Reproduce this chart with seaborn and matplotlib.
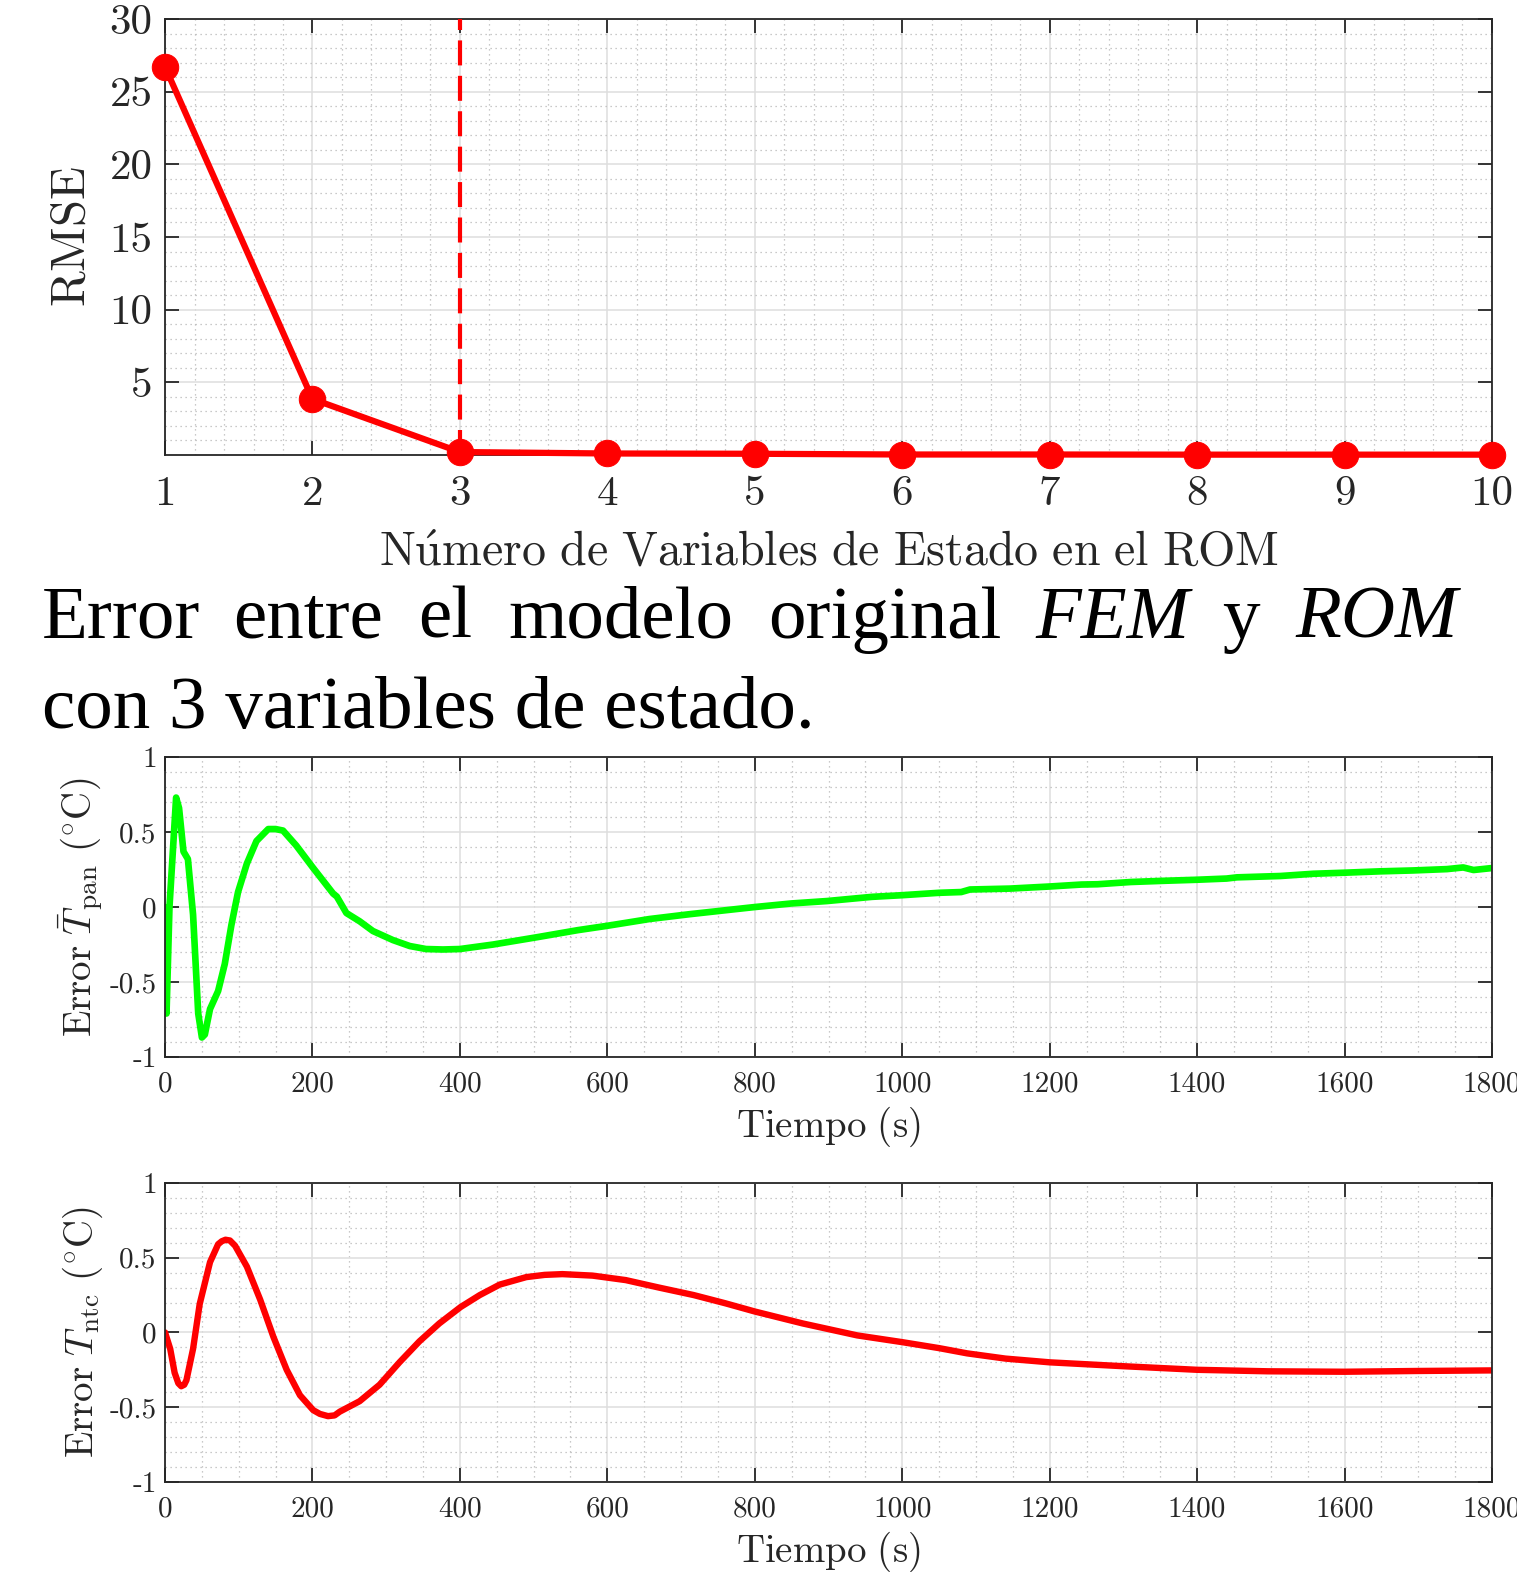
import matplotlib
matplotlib.use("Agg")
import matplotlib.pyplot as plt
import seaborn as sns
from matplotlib.ticker import MultipleLocator, FixedLocator, FixedFormatter

# RMSE vs number of ROM states
n_states = [1, 2, 3, 4, 5, 6, 7, 8, 9, 10]
rmse = [26.7, 3.85, 0.2, 0.1, 0.08, 0.03, 0.03, 0.02, 0.02, 0.02]
chosen_states = 3

# Error of mean pan temperature
t_pan = [0, 2, 6, 15, 19, 25, 31, 38, 45, 50, 54, 61, 72, 81, 90, 99, 111, 124,
         140, 150, 160, 178, 201, 228, 233, 246, 264, 282, 309, 332, 354, 377, 400,
         445, 506, 560, 600, 657, 711, 772, 800, 850, 898, 959, 1000, 1050, 1080,
         1092, 1146, 1200, 1243, 1265, 1310, 1355, 1400, 1440, 1454, 1513, 1558,
         1600, 1648, 1693, 1739, 1761, 1775, 1800]
err_pan = [0, -0.71, 0.0, 0.73, 0.66, 0.37, 0.32, -0.05, -0.71, -0.87, -0.85, -0.68,
           -0.56, -0.38, -0.12, 0.10, 0.29, 0.44, 0.52, 0.52, 0.51, 0.41, 0.26, 0.09,
           0.07, -0.04, -0.095, -0.16, -0.22, -0.26, -0.28, -0.283, -0.28, -0.25,
           -0.20, -0.154, -0.125, -0.08, -0.048, -0.015, 0.0, 0.024, 0.04, 0.068,
           0.079, 0.095, 0.10, 0.117, 0.123, 0.137, 0.15, 0.152, 0.167, 0.175, 0.182,
           0.19, 0.198, 0.207, 0.222, 0.229, 0.238, 0.244, 0.253, 0.264, 0.247, 0.26]

# Error of NTC temperature
t_ntc = [0, 7, 13, 18, 22, 26, 29, 38, 47, 61, 72, 77, 82, 88, 95, 111, 129, 147,
         165, 183, 201, 210, 221, 230, 237, 264, 291, 318, 345, 372, 401, 427, 454,
         490, 515, 539, 580, 625, 670, 717, 760, 800, 865, 939, 1000, 1050, 1088,
         1140, 1200, 1296, 1400, 1496, 1600, 1696, 1800]
err_ntc = [0, -0.11, -0.27, -0.34, -0.36, -0.35, -0.32, -0.11, 0.19, 0.47, 0.59,
           0.61, 0.62, 0.615, 0.58, 0.44, 0.22, -0.03, -0.25, -0.42, -0.52, -0.545,
           -0.56, -0.555, -0.53, -0.46, -0.35, -0.20, -0.06, 0.06, 0.17, 0.25, 0.32,
           0.37, 0.385, 0.39, 0.38, 0.35, 0.30, 0.25, 0.195, 0.14, 0.06, -0.02,
           -0.065, -0.105, -0.14, -0.175, -0.20, -0.225, -0.25, -0.26, -0.263,
           -0.258, -0.254]

time_ticks = [0, 200, 400, 600, 800, 1000, 1200, 1400, 1600, 1800]
err_ticks = [-1, -0.5, 0, 0.5, 1]
err_labels = ["-1", "-0.5", "0", "0.5", "1"]
rmse_ticks = [5, 10, 15, 20, 25, 30]

sns.set_style("ticks")
plt.rcParams["font.family"] = ["cmr10", "DejaVu Serif"]
plt.rcParams["mathtext.fontset"] = "cm"
plt.rcParams["axes.unicode_minus"] = False

ink = "#262626"


def style_axes(ax, fs, xpad, ypad):
    ax.set_axisbelow(True)
    ax.tick_params(which="major", direction="in", top=True, right=True, length=10,
                   width=1.3, labelsize=fs, color=ink, labelcolor=ink)
    ax.tick_params(axis="x", which="major", pad=xpad)
    ax.tick_params(axis="y", which="major", pad=ypad)
    ax.tick_params(which="minor", length=0)
    ax.grid(which="major", color="#dedede", lw=1.1)
    ax.grid(which="minor", color="#b8b8b8", lw=0.9, ls=(0, (1, 3)))
    for s in ax.spines.values():
        s.set_color(ink)
        s.set_linewidth(1.3)
        s.set_visible(True)


fig = plt.figure(figsize=(15.17, 15.72), dpi=100)

# top: RMSE
ax1 = fig.add_axes([0.1088, 0.7106, 0.8747, 0.2773])
sns.lineplot(x=n_states, y=rmse, ax=ax1, color="red", lw=4.5, marker="o",
             markersize=19, markeredgecolor="red", clip_on=False, zorder=5)
ax1.axvline(chosen_states, color="red", lw=3.0, ls=(0, (6, 2.5)), zorder=4)
ax1.set_xlim(1, 10)
ax1.set_ylim(0, 30)
ax1.xaxis.set_major_locator(FixedLocator(n_states))
ax1.xaxis.set_major_formatter(FixedFormatter([str(n) for n in n_states]))
ax1.xaxis.set_minor_locator(MultipleLocator(0.2))
ax1.yaxis.set_major_locator(FixedLocator(rmse_ticks))
ax1.yaxis.set_major_formatter(FixedFormatter([str(v) for v in rmse_ticks]))
ax1.yaxis.set_minor_locator(MultipleLocator(1))
style_axes(ax1, 31, 15, 9)
ax1.set_xlabel(r"$\mathrm{N\acute{u}mero\ de\ Variables\ de\ Estado\ en\ el\ ROM}$",
               fontsize=34.5, color=ink)
ax1.set_ylabel(r"$\mathrm{RMSE}$", fontsize=35, color=ink)
ax1.xaxis.set_label_coords(0.5, -0.175)
ax1.yaxis.set_label_coords(-0.053, 0.5)

# middle: pan temperature error
ax2 = fig.add_axes([0.1088, 0.3276, 0.8747, 0.1908])
sns.lineplot(x=t_pan, y=err_pan, ax=ax2, color="#00ff00", lw=4.8)
# bottom: NTC temperature error
ax3 = fig.add_axes([0.1088, 0.0573, 0.8747, 0.1902])
sns.lineplot(x=t_ntc, y=err_ntc, ax=ax3, color="red", lw=4.6)

ylabels = [r"$\mathrm{Error}\ \bar{T}_{\mathrm{pan}}\ (^{\circ}\mathrm{C})$",
           r"$\mathrm{Error}\ T_{\mathrm{ntc}}\ (^{\circ}\mathrm{C})$"]
for ax, lab in zip([ax2, ax3], ylabels):
    ax.set_xlim(0, 1800)
    ax.set_ylim(-1, 1)
    ax.xaxis.set_major_locator(FixedLocator(time_ticks))
    ax.xaxis.set_major_formatter(FixedFormatter([str(v) for v in time_ticks]))
    ax.xaxis.set_minor_locator(MultipleLocator(50))
    ax.yaxis.set_major_locator(FixedLocator(err_ticks))
    ax.yaxis.set_major_formatter(FixedFormatter(err_labels))
    ax.yaxis.set_minor_locator(MultipleLocator(0.1))
    style_axes(ax, 21, 10, 6)
    ax.set_xlabel(r"$\mathrm{Tiempo\ (s)}$", fontsize=28, color=ink)
    ax.set_ylabel(lab, fontsize=28, color=ink)
    ax.xaxis.set_label_coords(0.5, -0.16)
    ax.yaxis.set_label_coords(-0.045, 0.5)

# caption text between the panels (justified first line)
line1 = [("Error", 42, "normal"), ("entre", 233, "normal"), ("el", 418, "normal"),
         ("modelo", 508, "normal"), ("original", 768, "normal"),
         ("FEM", 1035, "italic"), ("y", 1222, "normal"), ("ROM", 1295, "italic")]
for word, xpx, st in line1:
    fig.text(xpx / 1517, 1 - 638 / 1572, word, fontsize=54, style=st,
             family="Liberation Serif", va="baseline", ha="left", color="black")
fig.text(42 / 1517, 1 - 728 / 1572, "con 3 variables de estado.", fontsize=54,
         family="Liberation Serif", va="baseline", ha="left", color="black")

fig.savefig("out.png", dpi=100)
